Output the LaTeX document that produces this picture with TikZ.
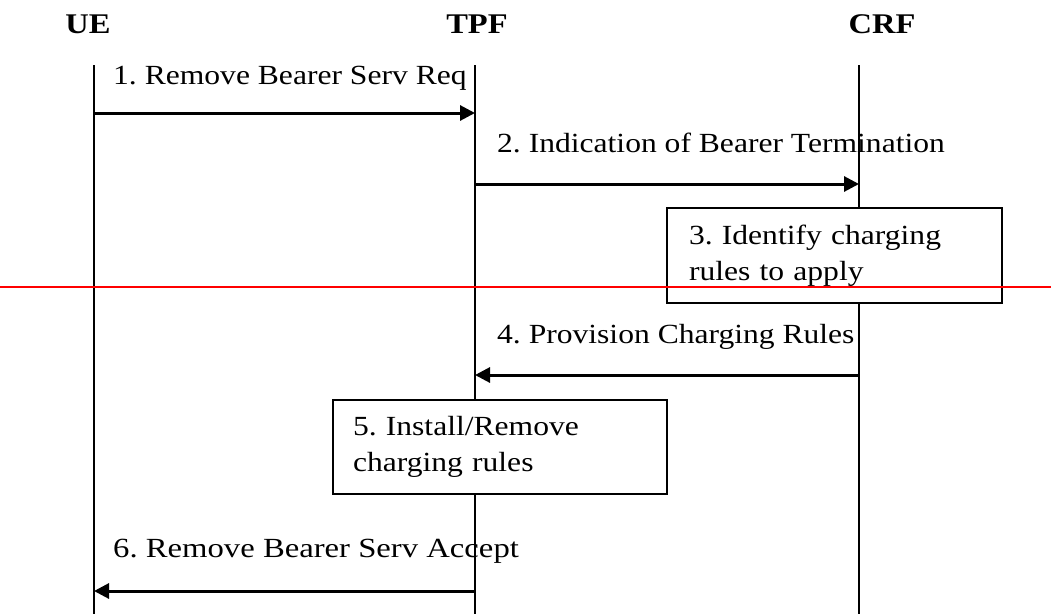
\documentclass[tikz,border=0pt]{standalone}
\usepackage{fontspec}
\setmainfont{Liberation Serif}[FakeStretch=1.14]
\usetikzlibrary{arrows.meta}
\frenchspacing
\begin{document}
\begin{tikzpicture}[x=1pt,y=-1pt,
  every node/.style={font=\fontsize{27.7}{36.5}\selectfont},
  head/.style={font=\fontsize{28.5}{34}\selectfont\bfseries, anchor=base, inner sep=0},
  msglabel/.style={anchor=base west, inner sep=0},
  life/.style={line width=1.6pt, black},
  msg/.style={line width=3pt, -{Triangle[length=15pt,width=15pt]}},
  procbox/.style={draw, line width=2pt, fill=white, align=left, inner ysep=0pt}
]
\useasboundingbox (0,0) rectangle (1051,614);
% headers
\node[head] (UE) at (88,33) {UE};
\node[head] (TPF) at (477,33) {TPF};
\node[head] (CRF) at (882,33) {CRF};
% lifelines
\coordinate (ueT) at (94,65);   \coordinate (ueB) at (94,614);
\coordinate (tpT) at (475,65); \coordinate (tpB) at (475,614);
\coordinate (crT) at (859,65);  \coordinate (crB) at (859,614);
\draw[life] (ueT) -- (ueB);
\draw[life] (tpT) -- (tpB);
\draw[life] (crT) -- (crB);
% boxes
\node[procbox, minimum width=335pt, minimum height=95pt, text width=291pt, inner xsep=22pt] (b3) at (834.5,255.5)
  {3. Identify charging\\rules to apply};
\node[procbox, minimum width=334pt, minimum height=94pt, text width=294pt, inner xsep=20pt] (b5) at (500,447)
  {5. Install/Remove\\charging rules};
% message end points
\coordinate (m1a) at (94,113);    \coordinate (m1b) at (475,113);
\coordinate (m2a) at (475,184); \coordinate (m2b) at (859,184);
\coordinate (m4a) at (859,375);   \coordinate (m4b) at (475,375);
\coordinate (m6a) at (475,591); \coordinate (m6b) at (94,591);
\draw[msg] (m1a) -- (m1b);
\draw[msg] (m2a) -- (m2b);
\draw[msg] (m4a) -- (m4b);
\draw[msg] (m6a) -- (m6b);
% labels
\node[msglabel] (l1) at (113,84) {1. Remove Bearer Serv Req};
\node[msglabel] (l2) at (497,152) {2. Indication of Bearer Termination};
\node[msglabel] (l4) at (497,343) {4. Provision Charging Rules};
\node[msglabel, font=\fontsize{27.7}{36.5}\selectfont\addfontfeature{FakeStretch=1.18}] (l6) at (113,557) {6. Remove Bearer Serv Accept};
% red line
\coordinate (rl) at (0,287); \coordinate (rr) at (1051,287);
\draw[red, line width=1.5pt] (rl) -- (rr);
\end{tikzpicture}
\end{document}
